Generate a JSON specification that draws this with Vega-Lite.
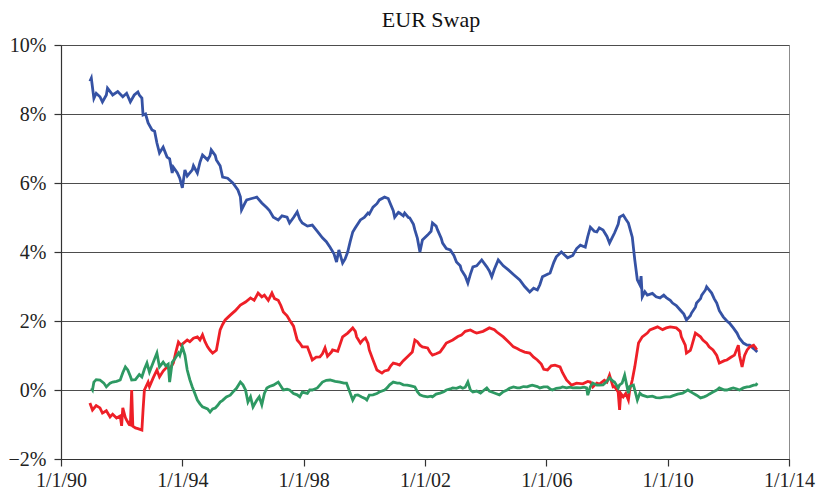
{
"$schema": "https://vega.github.io/schema/vega-lite/v6.json",
"width": 728, "height": 414,
"autosize": {"type": "none"},
"padding": {"left": 61, "top": 45, "right": 28, "bottom": 34},
"background": "white",
"title": {"text": "EUR Swap", "font": "Liberation Serif", "fontSize": 22, "fontWeight": "normal", "color": "#111", "anchor": "middle", "frame": "group", "baseline": "alphabetic", "offset": -14, "dx": 6},
"config": {"view": {"stroke": "#8c8c8c", "strokeWidth": 1}, "font": "Liberation Serif"},
"datasets": {
"blue": [
{"d":"1990-12-15","v":8.95},{"d":"1991-01-01","v":9.04},{"d":"1991-02-01","v":8.45},{"d":"1991-03-01","v":8.6},{"d":"1991-04-15","v":8.5},{"d":"1991-05-15","v":8.35},{"d":"1991-07-01","v":8.55},{"d":"1991-07-15","v":8.75},{"d":"1991-09-01","v":8.6},{"d":"1991-09-15","v":8.55},{"d":"1991-11-15","v":8.65},{"d":"1992-01-15","v":8.5},{"d":"1992-03-01","v":8.6},{"d":"1992-04-15","v":8.35},{"d":"1992-06-01","v":8.55},{"d":"1992-07-15","v":8.64},{"d":"1992-08-01","v":8.55},{"d":"1992-09-01","v":8.46},{"d":"1992-09-15","v":7.97},{"d":"1992-10-15","v":8.0},{"d":"1992-11-15","v":7.74},{"d":"1993-01-01","v":7.54},{"d":"1993-02-01","v":7.5},{"d":"1993-03-01","v":7.16},{"d":"1993-04-01","v":6.87},{"d":"1993-05-15","v":7.04},{"d":"1993-07-01","v":6.75},{"d":"1993-08-01","v":6.7},{"d":"1993-09-01","v":6.29},{"d":"1993-09-15","v":6.46},{"d":"1993-11-01","v":6.3},{"d":"1993-12-01","v":6.14},{"d":"1994-01-01","v":5.86},{"d":"1994-02-01","v":6.38},{"d":"1994-03-01","v":6.2},{"d":"1994-05-01","v":6.38},{"d":"1994-05-15","v":6.5},{"d":"1994-07-01","v":6.29},{"d":"1994-08-01","v":6.6},{"d":"1994-09-01","v":6.81},{"d":"1994-11-01","v":6.67},{"d":"1994-12-01","v":6.8},{"d":"1994-12-15","v":6.96},{"d":"1995-02-01","v":6.8},{"d":"1995-02-15","v":6.67},{"d":"1995-04-01","v":6.5},{"d":"1995-05-01","v":6.17},{"d":"1995-07-01","v":6.14},{"d":"1995-09-01","v":6.0},{"d":"1995-11-01","v":5.8},{"d":"1995-12-01","v":5.6},{"d":"1995-12-15","v":5.22},{"d":"1996-02-01","v":5.45},{"d":"1996-02-15","v":5.51},{"d":"1996-04-15","v":5.55},{"d":"1996-06-15","v":5.59},{"d":"1996-08-15","v":5.42},{"d":"1996-10-15","v":5.28},{"d":"1996-11-15","v":5.2},{"d":"1997-01-01","v":5.01},{"d":"1997-03-01","v":4.93},{"d":"1997-04-15","v":5.05},{"d":"1997-06-15","v":5.01},{"d":"1997-07-15","v":4.84},{"d":"1997-09-01","v":5.0},{"d":"1997-10-15","v":5.16},{"d":"1997-11-15","v":4.95},{"d":"1997-12-15","v":4.84},{"d":"1998-02-15","v":4.75},{"d":"1998-04-15","v":4.78},{"d":"1998-06-15","v":4.6},{"d":"1998-08-15","v":4.41},{"d":"1998-10-01","v":4.3},{"d":"1998-11-15","v":4.14},{"d":"1999-01-01","v":3.95},{"d":"1999-02-01","v":3.71},{"d":"1999-03-01","v":4.06},{"d":"1999-04-15","v":3.68},{"d":"1999-05-15","v":3.8},{"d":"1999-06-15","v":4.0},{"d":"1999-07-15","v":4.3},{"d":"1999-08-15","v":4.58},{"d":"1999-09-15","v":4.7},{"d":"1999-11-15","v":4.93},{"d":"2000-01-01","v":5.0},{"d":"2000-02-15","v":5.13},{"d":"2000-03-01","v":5.1},{"d":"2000-04-15","v":5.3},{"d":"2000-06-01","v":5.4},{"d":"2000-07-01","v":5.51},{"d":"2000-09-01","v":5.59},{"d":"2000-10-15","v":5.55},{"d":"2000-11-01","v":5.45},{"d":"2000-12-15","v":5.2},{"d":"2001-01-01","v":5.01},{"d":"2001-02-15","v":5.15},{"d":"2001-03-01","v":5.13},{"d":"2001-04-15","v":5.05},{"d":"2001-05-01","v":5.13},{"d":"2001-06-15","v":5.0},{"d":"2001-07-01","v":4.99},{"d":"2001-08-15","v":4.8},{"d":"2001-09-01","v":4.64},{"d":"2001-10-01","v":4.4},{"d":"2001-11-01","v":4.0},{"d":"2001-12-01","v":4.35},{"d":"2002-02-01","v":4.49},{"d":"2002-03-15","v":4.6},{"d":"2002-04-01","v":4.84},{"d":"2002-05-15","v":4.75},{"d":"2002-06-01","v":4.64},{"d":"2002-07-15","v":4.4},{"d":"2002-08-01","v":4.26},{"d":"2002-09-15","v":4.1},{"d":"2002-11-01","v":4.06},{"d":"2002-12-15","v":3.9},{"d":"2003-01-15","v":3.71},{"d":"2003-03-01","v":3.6},{"d":"2003-03-15","v":3.48},{"d":"2003-05-01","v":3.3},{"d":"2003-06-01","v":3.1},{"d":"2003-07-01","v":3.35},{"d":"2003-08-01","v":3.57},{"d":"2003-09-15","v":3.6},{"d":"2003-11-15","v":3.77},{"d":"2004-01-15","v":3.57},{"d":"2004-02-15","v":3.45},{"d":"2004-03-15","v":3.28},{"d":"2004-04-15","v":3.5},{"d":"2004-06-01","v":3.77},{"d":"2004-08-01","v":3.6},{"d":"2004-10-01","v":3.48},{"d":"2004-12-01","v":3.35},{"d":"2005-02-15","v":3.19},{"d":"2005-04-15","v":3.0},{"d":"2005-06-15","v":2.84},{"d":"2005-08-01","v":2.95},{"d":"2005-09-15","v":2.9},{"d":"2005-10-15","v":3.05},{"d":"2005-11-15","v":3.28},{"d":"2006-02-15","v":3.39},{"d":"2006-04-01","v":3.7},{"d":"2006-05-01","v":3.86},{"d":"2006-07-01","v":4.0},{"d":"2006-08-15","v":3.9},{"d":"2006-09-15","v":3.83},{"d":"2006-11-15","v":3.9},{"d":"2007-01-01","v":4.1},{"d":"2007-02-15","v":4.2},{"d":"2007-04-15","v":4.14},{"d":"2007-05-15","v":4.45},{"d":"2007-06-15","v":4.72},{"d":"2007-08-01","v":4.6},{"d":"2007-09-01","v":4.58},{"d":"2007-10-01","v":4.7},{"d":"2007-11-15","v":4.64},{"d":"2008-01-01","v":4.45},{"d":"2008-02-01","v":4.26},{"d":"2008-03-01","v":4.4},{"d":"2008-04-01","v":4.55},{"d":"2008-05-15","v":4.8},{"d":"2008-06-01","v":5.01},{"d":"2008-07-15","v":5.07},{"d":"2008-08-15","v":4.95},{"d":"2008-09-15","v":4.84},{"d":"2008-10-01","v":4.7},{"d":"2008-11-01","v":4.43},{"d":"2008-12-01","v":3.77},{"d":"2009-01-01","v":3.19},{"d":"2009-02-01","v":3.04},{"d":"2009-02-15","v":3.3},{"d":"2009-03-01","v":2.7},{"d":"2009-04-01","v":2.85},{"d":"2009-05-01","v":2.75},{"d":"2009-07-01","v":2.8},{"d":"2009-08-15","v":2.7},{"d":"2009-10-01","v":2.67},{"d":"2009-11-15","v":2.75},{"d":"2009-12-15","v":2.68},{"d":"2010-02-01","v":2.6},{"d":"2010-03-01","v":2.52},{"d":"2010-04-15","v":2.45},{"d":"2010-06-01","v":2.32},{"d":"2010-07-15","v":2.2},{"d":"2010-08-15","v":2.03},{"d":"2010-10-01","v":2.15},{"d":"2010-10-15","v":2.23},{"d":"2010-12-01","v":2.4},{"d":"2010-12-15","v":2.52},{"d":"2011-02-01","v":2.65},{"d":"2011-02-15","v":2.75},{"d":"2011-04-01","v":2.9},{"d":"2011-04-15","v":2.99},{"d":"2011-05-15","v":2.9},{"d":"2011-06-15","v":2.81},{"d":"2011-07-15","v":2.65},{"d":"2011-08-15","v":2.52},{"d":"2011-09-15","v":2.3},{"d":"2011-11-01","v":2.12},{"d":"2011-12-15","v":2.0},{"d":"2012-01-15","v":1.94},{"d":"2012-03-01","v":1.8},{"d":"2012-04-15","v":1.65},{"d":"2012-05-15","v":1.5},{"d":"2012-07-01","v":1.36},{"d":"2012-08-15","v":1.3},{"d":"2012-09-15","v":1.3},{"d":"2012-11-01","v":1.2},{"d":"2012-12-15","v":1.1}
],
"red": [
{"d":"1990-12-15","v":-0.38},{"d":"1991-01-15","v":-0.58},{"d":"1991-03-01","v":-0.45},{"d":"1991-04-15","v":-0.52},{"d":"1991-05-15","v":-0.67},{"d":"1991-07-01","v":-0.6},{"d":"1991-08-15","v":-0.78},{"d":"1991-09-15","v":-0.7},{"d":"1991-11-01","v":-0.81},{"d":"1991-12-15","v":-0.75},{"d":"1992-01-01","v":-1.04},{"d":"1992-01-15","v":-0.52},{"d":"1992-02-15","v":-0.8},{"d":"1992-03-01","v":-0.87},{"d":"1992-04-01","v":-1.0},{"d":"1992-04-15","v":-1.01},{"d":"1992-05-01","v":0.0},{"d":"1992-05-15","v":-1.05},{"d":"1992-06-15","v":-1.1},{"d":"1992-07-15","v":-1.12},{"d":"1992-09-01","v":-1.16},{"d":"1992-09-15","v":-0.58},{"d":"1992-10-01","v":0.0},{"d":"1992-11-15","v":0.23},{"d":"1992-12-01","v":0.1},{"d":"1993-01-15","v":0.35},{"d":"1993-03-01","v":0.58},{"d":"1993-04-01","v":0.38},{"d":"1993-05-15","v":0.55},{"d":"1993-07-01","v":0.67},{"d":"1993-08-01","v":0.6},{"d":"1993-09-15","v":0.78},{"d":"1993-10-15","v":1.1},{"d":"1993-11-15","v":1.39},{"d":"1993-12-15","v":1.3},{"d":"1994-01-15","v":1.36},{"d":"1994-03-01","v":1.45},{"d":"1994-04-01","v":1.4},{"d":"1994-05-15","v":1.5},{"d":"1994-07-01","v":1.54},{"d":"1994-08-01","v":1.45},{"d":"1994-09-01","v":1.6},{"d":"1994-10-01","v":1.4},{"d":"1994-11-01","v":1.25},{"d":"1994-12-01","v":1.15},{"d":"1995-01-01","v":1.07},{"d":"1995-02-15","v":1.15},{"d":"1995-04-01","v":1.74},{"d":"1995-05-01","v":1.9},{"d":"1995-06-01","v":2.03},{"d":"1995-08-01","v":2.17},{"d":"1995-10-01","v":2.3},{"d":"1995-12-01","v":2.46},{"d":"1996-02-01","v":2.55},{"d":"1996-04-01","v":2.67},{"d":"1996-05-15","v":2.6},{"d":"1996-07-01","v":2.81},{"d":"1996-08-15","v":2.7},{"d":"1996-09-15","v":2.75},{"d":"1996-11-01","v":2.6},{"d":"1996-12-15","v":2.81},{"d":"1997-01-15","v":2.65},{"d":"1997-03-01","v":2.6},{"d":"1997-04-01","v":2.45},{"d":"1997-05-01","v":2.26},{"d":"1997-06-15","v":2.15},{"d":"1997-07-15","v":2.03},{"d":"1997-09-01","v":1.85},{"d":"1997-10-15","v":1.45},{"d":"1997-11-15","v":1.36},{"d":"1997-12-15","v":1.25},{"d":"1998-02-15","v":1.25},{"d":"1998-03-15","v":1.07},{"d":"1998-04-15","v":0.87},{"d":"1998-06-01","v":0.95},{"d":"1998-07-15","v":0.96},{"d":"1998-08-15","v":1.05},{"d":"1998-09-15","v":1.22},{"d":"1998-10-15","v":0.98},{"d":"1998-12-01","v":1.1},{"d":"1998-12-15","v":1.16},{"d":"1999-02-15","v":1.12},{"d":"1999-04-15","v":1.54},{"d":"1999-06-15","v":1.65},{"d":"1999-08-15","v":1.8},{"d":"1999-09-15","v":1.7},{"d":"1999-10-01","v":1.54},{"d":"1999-11-15","v":1.36},{"d":"1999-12-15","v":1.45},{"d":"2000-01-15","v":1.51},{"d":"2000-02-15","v":1.35},{"d":"2000-03-01","v":1.16},{"d":"2000-04-15","v":0.87},{"d":"2000-06-01","v":0.58},{"d":"2000-08-01","v":0.49},{"d":"2000-09-01","v":0.55},{"d":"2000-10-15","v":0.58},{"d":"2000-11-15","v":0.7},{"d":"2000-12-15","v":0.78},{"d":"2001-02-01","v":0.75},{"d":"2001-03-01","v":0.72},{"d":"2001-04-15","v":0.85},{"d":"2001-06-01","v":0.96},{"d":"2001-08-01","v":1.1},{"d":"2001-09-01","v":1.45},{"d":"2001-10-01","v":1.4},{"d":"2001-11-01","v":1.3},{"d":"2001-12-01","v":1.25},{"d":"2002-02-01","v":1.22},{"d":"2002-03-01","v":1.1},{"d":"2002-04-01","v":1.01},{"d":"2002-05-15","v":1.05},{"d":"2002-07-01","v":1.1},{"d":"2002-08-15","v":1.25},{"d":"2002-09-15","v":1.36},{"d":"2002-12-01","v":1.45},{"d":"2003-02-01","v":1.55},{"d":"2003-03-15","v":1.59},{"d":"2003-05-01","v":1.7},{"d":"2003-07-01","v":1.74},{"d":"2003-08-15","v":1.68},{"d":"2003-09-15","v":1.65},{"d":"2003-12-01","v":1.7},{"d":"2004-02-15","v":1.8},{"d":"2004-04-15","v":1.75},{"d":"2004-05-15","v":1.68},{"d":"2004-08-01","v":1.54},{"d":"2004-10-01","v":1.4},{"d":"2004-12-01","v":1.25},{"d":"2005-01-15","v":1.2},{"d":"2005-02-15","v":1.16},{"d":"2005-04-15","v":1.1},{"d":"2005-06-15","v":1.07},{"d":"2005-08-01","v":0.95},{"d":"2005-09-15","v":0.87},{"d":"2005-11-01","v":0.75},{"d":"2005-12-01","v":0.6},{"d":"2006-01-15","v":0.58},{"d":"2006-03-01","v":0.7},{"d":"2006-04-15","v":0.72},{"d":"2006-06-15","v":0.67},{"d":"2006-07-15","v":0.5},{"d":"2006-09-01","v":0.29},{"d":"2006-11-01","v":0.14},{"d":"2007-01-01","v":0.2},{"d":"2007-03-15","v":0.18},{"d":"2007-05-15","v":0.25},{"d":"2007-06-15","v":0.23},{"d":"2007-07-15","v":0.09},{"d":"2007-09-01","v":0.2},{"d":"2007-10-01","v":0.17},{"d":"2007-12-01","v":0.28},{"d":"2008-01-01","v":0.23},{"d":"2008-02-01","v":0.43},{"d":"2008-03-15","v":0.09},{"d":"2008-04-01","v":0.1},{"d":"2008-05-15","v":-0.06},{"d":"2008-06-01","v":-0.58},{"d":"2008-06-15","v":-0.1},{"d":"2008-07-15","v":-0.2},{"d":"2008-08-15","v":-0.1},{"d":"2008-09-15","v":-0.29},{"d":"2008-10-01","v":0.0},{"d":"2008-11-01","v":0.29},{"d":"2008-12-01","v":0.67},{"d":"2009-01-15","v":1.36},{"d":"2009-03-01","v":1.54},{"d":"2009-05-01","v":1.65},{"d":"2009-06-01","v":1.74},{"d":"2009-09-01","v":1.83},{"d":"2009-11-01","v":1.75},{"d":"2009-12-15","v":1.8},{"d":"2010-02-01","v":1.83},{"d":"2010-04-15","v":1.8},{"d":"2010-06-01","v":1.7},{"d":"2010-06-15","v":1.54},{"d":"2010-08-01","v":1.3},{"d":"2010-08-15","v":1.07},{"d":"2010-10-01","v":1.15},{"d":"2010-10-15","v":1.25},{"d":"2010-12-01","v":1.65},{"d":"2011-02-01","v":1.54},{"d":"2011-03-01","v":1.45},{"d":"2011-04-15","v":1.36},{"d":"2011-05-15","v":1.25},{"d":"2011-07-01","v":1.16},{"d":"2011-08-15","v":1.0},{"d":"2011-09-15","v":0.78},{"d":"2011-11-15","v":0.85},{"d":"2011-12-15","v":0.87},{"d":"2012-02-01","v":0.95},{"d":"2012-03-15","v":1.01},{"d":"2012-05-01","v":1.3},{"d":"2012-05-15","v":1.0},{"d":"2012-06-15","v":0.67},{"d":"2012-07-15","v":1.0},{"d":"2012-08-15","v":1.16},{"d":"2012-09-15","v":1.25},{"d":"2012-11-01","v":1.3},{"d":"2012-12-01","v":1.2},{"d":"2012-12-15","v":1.22}
],
"green": [
{"d":"1991-01-01","v":0.05},{"d":"1991-01-15","v":0.0},{"d":"1991-02-01","v":0.23},{"d":"1991-03-01","v":0.3},{"d":"1991-04-15","v":0.29},{"d":"1991-06-01","v":0.2},{"d":"1991-07-01","v":0.09},{"d":"1991-08-15","v":0.2},{"d":"1991-09-15","v":0.23},{"d":"1991-11-01","v":0.25},{"d":"1991-12-15","v":0.29},{"d":"1992-01-15","v":0.5},{"d":"1992-02-15","v":0.67},{"d":"1992-03-15","v":0.58},{"d":"1992-04-15","v":0.4},{"d":"1992-05-01","v":0.29},{"d":"1992-06-15","v":0.3},{"d":"1992-07-01","v":0.35},{"d":"1992-08-01","v":0.45},{"d":"1992-09-01","v":0.38},{"d":"1992-10-01","v":0.6},{"d":"1992-11-01","v":0.78},{"d":"1992-12-01","v":0.52},{"d":"1993-01-15","v":0.8},{"d":"1993-03-01","v":1.07},{"d":"1993-04-01","v":0.67},{"d":"1993-05-15","v":0.81},{"d":"1993-06-15","v":0.7},{"d":"1993-07-15","v":0.75},{"d":"1993-08-01","v":0.23},{"d":"1993-09-01","v":0.8},{"d":"1993-10-01","v":0.9},{"d":"1993-11-15","v":1.07},{"d":"1993-12-01","v":1.0},{"d":"1994-01-01","v":1.25},{"d":"1994-02-01","v":1.01},{"d":"1994-03-01","v":0.58},{"d":"1994-04-01","v":0.3},{"d":"1994-05-01","v":0.09},{"d":"1994-06-01","v":-0.1},{"d":"1994-07-01","v":-0.29},{"d":"1994-08-01","v":-0.4},{"d":"1994-09-01","v":-0.49},{"d":"1994-11-01","v":-0.55},{"d":"1994-12-01","v":-0.64},{"d":"1995-01-01","v":-0.55},{"d":"1995-02-01","v":-0.52},{"d":"1995-03-01","v":-0.45},{"d":"1995-04-01","v":-0.35},{"d":"1995-05-01","v":-0.3},{"d":"1995-06-15","v":-0.2},{"d":"1995-08-01","v":-0.15},{"d":"1995-09-01","v":-0.06},{"d":"1995-10-15","v":0.05},{"d":"1995-12-01","v":0.23},{"d":"1996-01-01","v":0.15},{"d":"1996-02-01","v":0.0},{"d":"1996-03-01","v":-0.35},{"d":"1996-04-01","v":-0.2},{"d":"1996-05-01","v":-0.49},{"d":"1996-06-15","v":-0.3},{"d":"1996-07-15","v":-0.2},{"d":"1996-08-15","v":-0.43},{"d":"1996-09-15","v":-0.1},{"d":"1996-10-15","v":0.06},{"d":"1996-11-15","v":0.1},{"d":"1997-01-01","v":0.14},{"d":"1997-03-01","v":0.23},{"d":"1997-05-01","v":0.0},{"d":"1997-06-15","v":0.02},{"d":"1997-07-15","v":0.0},{"d":"1997-09-01","v":-0.1},{"d":"1997-10-15","v":-0.14},{"d":"1997-11-15","v":-0.2},{"d":"1997-12-15","v":-0.06},{"d":"1998-02-15","v":-0.1},{"d":"1998-03-15","v":0.0},{"d":"1998-04-15","v":0.0},{"d":"1998-06-15","v":0.06},{"d":"1998-08-15","v":0.23},{"d":"1998-10-01","v":0.28},{"d":"1998-11-15","v":0.29},{"d":"1999-01-15","v":0.25},{"d":"1999-03-15","v":0.23},{"d":"1999-05-01","v":0.2},{"d":"1999-06-01","v":0.2},{"d":"1999-07-15","v":-0.09},{"d":"1999-08-15","v":-0.29},{"d":"1999-09-15","v":-0.15},{"d":"1999-10-15","v":-0.14},{"d":"1999-12-01","v":-0.2},{"d":"2000-01-15","v":-0.25},{"d":"2000-02-01","v":-0.29},{"d":"2000-03-01","v":-0.15},{"d":"2000-04-15","v":-0.14},{"d":"2000-06-01","v":-0.1},{"d":"2000-07-01","v":-0.06},{"d":"2000-09-01","v":0.0},{"d":"2000-10-01","v":0.06},{"d":"2000-11-01","v":0.15},{"d":"2000-12-15","v":0.23},{"d":"2001-02-01","v":0.2},{"d":"2001-03-01","v":0.2},{"d":"2001-04-15","v":0.15},{"d":"2001-06-01","v":0.14},{"d":"2001-07-15","v":0.12},{"d":"2001-09-01","v":0.09},{"d":"2001-10-01","v":-0.05},{"d":"2001-11-01","v":-0.14},{"d":"2001-12-15","v":-0.18},{"d":"2002-02-01","v":-0.2},{"d":"2002-03-15","v":-0.18},{"d":"2002-04-01","v":-0.2},{"d":"2002-05-15","v":-0.12},{"d":"2002-07-01","v":-0.09},{"d":"2002-08-15","v":-0.05},{"d":"2002-09-15","v":0.0},{"d":"2002-11-01","v":0.03},{"d":"2002-12-01","v":0.06},{"d":"2003-01-15","v":0.05},{"d":"2003-03-01","v":0.09},{"d":"2003-04-01","v":0.05},{"d":"2003-05-01","v":0.08},{"d":"2003-06-01","v":0.23},{"d":"2003-07-01","v":0.0},{"d":"2003-08-01","v":-0.06},{"d":"2003-09-15","v":-0.03},{"d":"2003-11-01","v":-0.09},{"d":"2003-12-15","v":0.0},{"d":"2004-01-15","v":0.06},{"d":"2004-02-15","v":-0.03},{"d":"2004-03-15","v":-0.06},{"d":"2004-05-01","v":-0.1},{"d":"2004-06-15","v":-0.14},{"d":"2004-08-01","v":-0.05},{"d":"2004-09-15","v":0.0},{"d":"2004-10-15","v":0.05},{"d":"2004-12-01","v":0.09},{"d":"2005-01-15","v":0.06},{"d":"2005-02-15","v":0.06},{"d":"2005-04-01","v":0.1},{"d":"2005-05-15","v":0.09},{"d":"2005-06-15","v":0.12},{"d":"2005-07-15","v":0.14},{"d":"2005-09-15","v":0.1},{"d":"2005-10-15","v":0.06},{"d":"2005-12-01","v":0.09},{"d":"2006-01-15","v":0.09},{"d":"2006-02-15","v":0.03},{"d":"2006-03-15","v":0.0},{"d":"2006-05-01","v":0.05},{"d":"2006-06-15","v":0.06},{"d":"2006-07-15","v":0.09},{"d":"2006-09-01","v":0.06},{"d":"2006-10-15","v":0.08},{"d":"2006-11-15","v":0.06},{"d":"2007-01-01","v":0.07},{"d":"2007-02-15","v":0.06},{"d":"2007-04-01","v":0.08},{"d":"2007-05-01","v":0.06},{"d":"2007-05-15","v":-0.15},{"d":"2007-06-15","v":0.1},{"d":"2007-07-15","v":0.2},{"d":"2007-09-01","v":0.14},{"d":"2007-10-01","v":0.14},{"d":"2007-11-15","v":0.15},{"d":"2008-01-01","v":0.25},{"d":"2008-02-01","v":0.35},{"d":"2008-03-15","v":0.25},{"d":"2008-04-01","v":0.23},{"d":"2008-05-15","v":0.06},{"d":"2008-06-01","v":0.15},{"d":"2008-07-01","v":0.2},{"d":"2008-08-01","v":0.43},{"d":"2008-09-15","v":-0.09},{"d":"2008-10-01","v":0.1},{"d":"2008-11-15","v":0.14},{"d":"2008-12-01","v":0.0},{"d":"2009-01-01","v":-0.29},{"d":"2009-02-01","v":-0.09},{"d":"2009-03-01","v":-0.15},{"d":"2009-05-01","v":-0.2},{"d":"2009-07-01","v":-0.18},{"d":"2009-08-15","v":-0.22},{"d":"2009-10-01","v":-0.23},{"d":"2009-12-01","v":-0.2},{"d":"2010-02-01","v":-0.2},{"d":"2010-03-01","v":-0.17},{"d":"2010-05-01","v":-0.12},{"d":"2010-07-01","v":-0.09},{"d":"2010-09-01","v":0.0},{"d":"2010-11-01","v":-0.09},{"d":"2010-12-15","v":-0.15},{"d":"2011-02-01","v":-0.23},{"d":"2011-03-15","v":-0.2},{"d":"2011-04-15","v":-0.17},{"d":"2011-05-15","v":-0.12},{"d":"2011-07-01","v":-0.06},{"d":"2011-08-15","v":0.0},{"d":"2011-09-15","v":0.06},{"d":"2011-11-15","v":0.0},{"d":"2011-12-15","v":0.0},{"d":"2012-02-01","v":0.04},{"d":"2012-03-01","v":0.06},{"d":"2012-04-15","v":0.03},{"d":"2012-05-15","v":0.0},{"d":"2012-07-01","v":0.06},{"d":"2012-08-15","v":0.09},{"d":"2012-09-15","v":0.1},{"d":"2012-11-01","v":0.14},{"d":"2012-12-01","v":0.15},{"d":"2012-12-15","v":0.2}
]
},
"encoding": {
"x": {"field": "d", "type": "temporal",
 "scale": {"type": "utc", "domain": [{"year": 1990, "month": 1, "date": 1, "utc": true}, {"year": 2014, "month": 1, "date": 1, "utc": true}], "nice": false},
 "axis": {"title": null, "values": [{"year": 1990, "month": 1, "date": 1, "utc": true}, {"year": 1994, "month": 1, "date": 1, "utc": true}, {"year": 1998, "month": 1, "date": 1, "utc": true}, {"year": 2002, "month": 1, "date": 1, "utc": true}, {"year": 2006, "month": 1, "date": 1, "utc": true}, {"year": 2010, "month": 1, "date": 1, "utc": true}, {"year": 2014, "month": 1, "date": 1, "utc": true}],
  "labelExpr": "utcFormat(datum.value, '%-m/%-d/%y')", "grid": false, "domainColor": "#333", "domainWidth": 1.2, "tickColor": "#333", "tickSize": 7, "tickWidth": 1.2, "labelFont": "Liberation Serif", "labelFontSize": 20, "labelColor": "#222", "labelPadding": 4, "labelFlush": false, "labelOverlap": false}},
"y": {"field": "v", "type": "quantitative",
 "scale": {"domain": [-2, 10], "nice": false, "zero": false},
 "axis": {"title": null, "values": [-2, 0, 2, 4, 6, 8, 10], "labelExpr": "format(datum.value, 'd') + '%'", "grid": true, "gridColor": "#4d4d4d", "gridWidth": 1.2, "domainColor": "#333", "domainWidth": 1.2, "tickColor": "#333", "tickSize": 7, "tickWidth": 1.2, "labelFont": "Liberation Serif", "labelFontSize": 20, "labelColor": "#222", "labelPadding": 8}}
},
"layer": [
{"data": {"name": "blue"}, "mark": {"type": "line", "color": "#3552A4", "strokeWidth": 2.8}},
{"data": {"name": "red"}, "mark": {"type": "line", "color": "#EE1F27", "strokeWidth": 2.8}},
{"data": {"name": "green"}, "mark": {"type": "line", "color": "#2E9963", "strokeWidth": 2.8}}
]
}
